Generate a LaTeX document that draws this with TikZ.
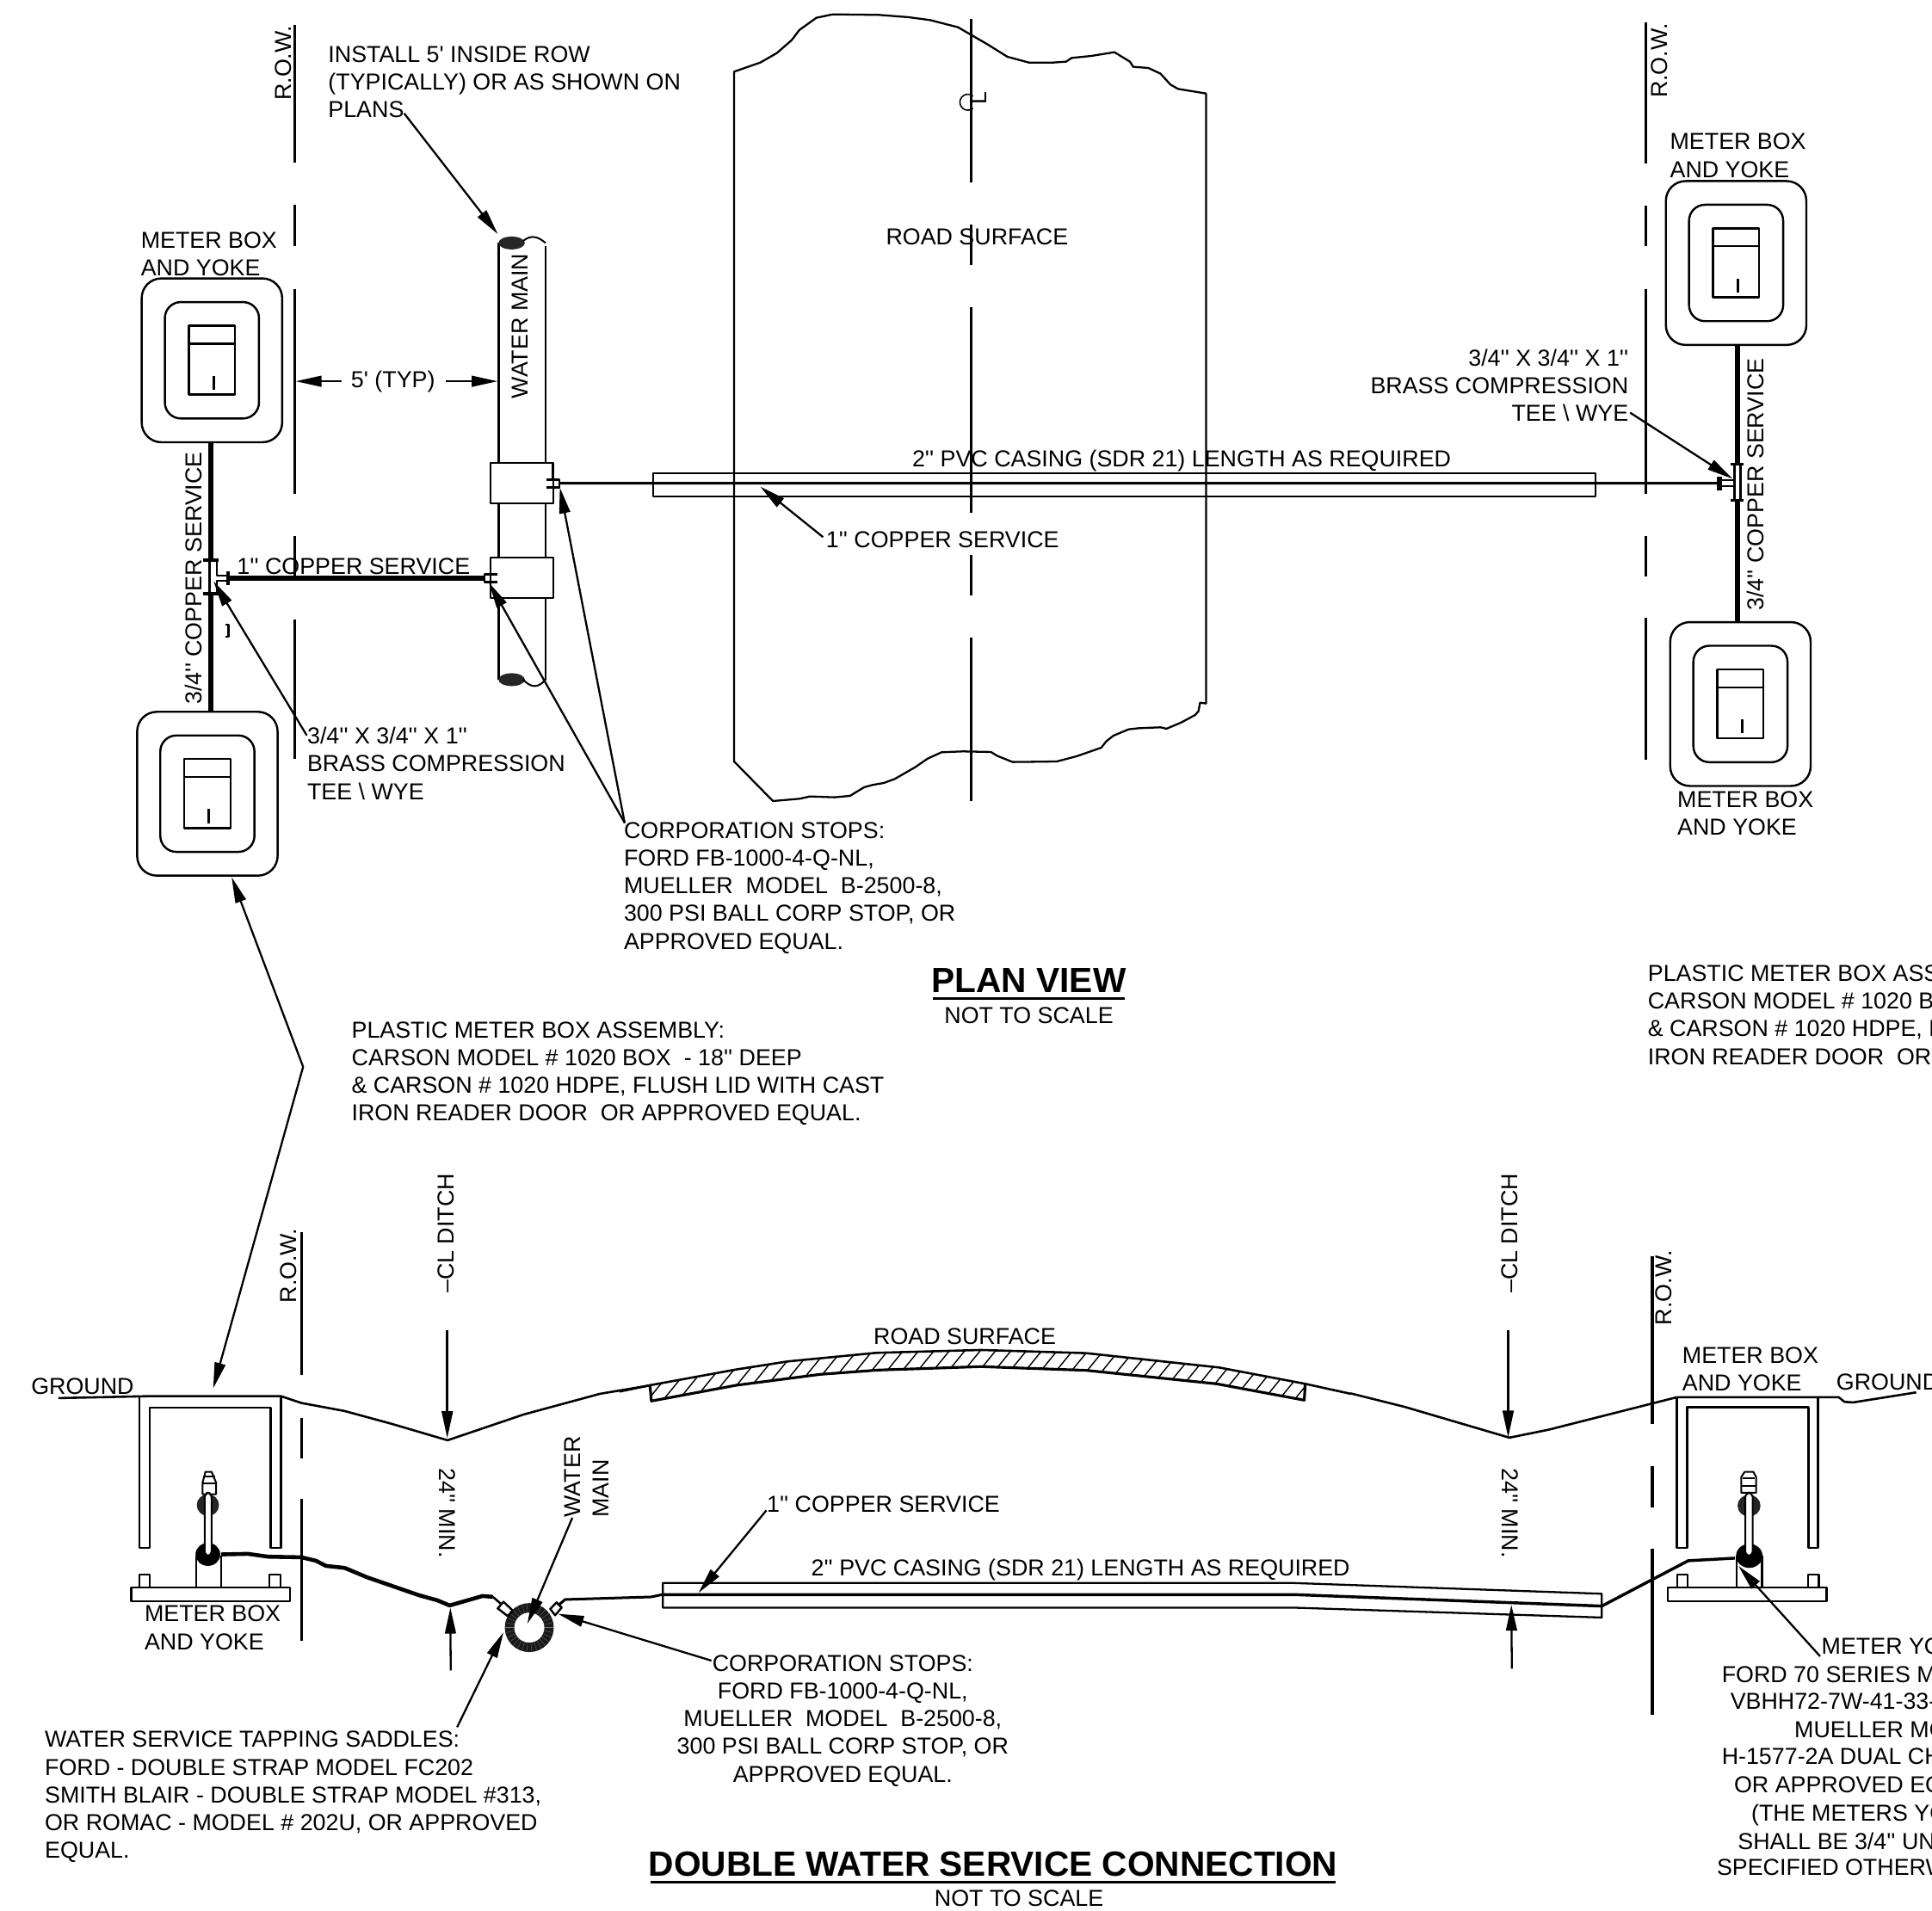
\documentclass[tikz,border=0pt]{standalone}
\usepackage{fontspec}
\usetikzlibrary{arrows.meta}
\newfontfamily\dwgfont{Liberation Sans}
\newcommand\mplan[2]{\begin{scope}[shift={(#1,#2)},line width=.85pt]
 \draw[rounded corners=8pt,fill=white] (0,0) rectangle (114,133);
 \draw[rounded corners=6.5pt] (18.8,19.2) rectangle (95.2,113.7);
 \draw (38.3,38.3) rectangle (75.7,94.3);
 \draw (38.3,52.9) -- (75.7,52.9);
 \draw[line width=1.1pt] (58.3,79) -- (58.3,90.4);
\end{scope}}
\tikzset{
 lbl/.style={font=\dwgfont\fontsize{9.37}{11.25}\selectfont,inner sep=0pt,align=left,anchor=north west},
 lblc/.style={lbl,anchor=center,align=center},
 lblr/.style={lbl,anchor=north east,align=right},
 vert/.style={lbl,rotate=90,anchor=west},
 vertdown/.style={lbl,rotate=-90,anchor=east},
 titlebig/.style={font=\dwgfont\bfseries\fontsize{14.2}{16}\selectfont,inner sep=0pt,anchor=center},
 leader/.style={line width=.8pt,-{Triangle[length=10.5pt,width=4.4pt]}},
 dim/.style={line width=1pt,-{Triangle[length=11pt,width=4.4pt]}},
 row/.style={line width=1.1pt},
 thin line/.style={line width=.7pt},
 thickpipe/.style={line width=2pt},
 ground/.style={line width=.9pt,line join=round},
}
\begin{document}
\begin{tikzpicture}[x=0.5pt,y=-0.5pt,line join=round]
\clip (0,0) rectangle (1568,1551);
\fill[white] (0,0) rectangle (1568,1551);
% ---------- road outline
\begin{scope}[shift={(579.7,0)},xscale=.2673,yscale=.2328]
\draw[line width=.8pt] (60,250)--(140,218)--(190,185)--(235,140)--(258,105)--(310,62)--(360,50)--(500,52)--(590,60)--(655,70)--(740,95)--(830,155)--(890,198)--(955,218)--(1030,218)--(1068,215)--(1085,202)--(1145,195)--(1215,182)--(1262,215)--(1272,233)--(1318,237)--(1355,257)--(1385,295)--(1408,310)--(1493,326)
--(1493,2453)--(1475,2450)--(1470,2480)--(1460,2493)--(1418,2519)--(1373,2541)--(1355,2536)--(1290,2539)--(1258,2543)--(1212,2565)--(1190,2585)--(1175,2607)--(1100,2637)--(1040,2655)--(985,2656)--(906,2657)--(860,2636)--(840,2622)--(755,2620)--(690,2623)--(648,2645)--(610,2675)--(548,2716)--(515,2730)--(480,2737)--(455,2745)--(412,2775)--(365,2780)--(290,2777)--(260,2785)--(178,2793)--(60,2655)--cycle;
\end{scope}
% centre line
\foreach \a/\b in {15.6/148,182.5/215,249.6/416,450.6/483,517.6/650} \draw[row] (788,\a) -- (788,\b);
\node[vert,anchor=center] (clmark) at (794.5,79.5) {L};
\draw[line width=.55pt] (789.7,78) arc [start angle=-50,end angle=-310,radius=6.5];
% R.O.W. lines plan
\foreach \a/\b in {20/132,166/200,234.4/401,435/468,503/616} \draw[row] (239,\a) -- (239,\b);
\foreach \a/\b in {18/133,166.7/200,234.4/400.8,435/467.8,501.6/616.7} \draw[row] (1336,\a) -- (1336,\b);
% R.O.W. lines section
\foreach \a/\b in {1000/1116,1150.7/1183.8,1216.8/1332} \draw[row] (245,\a) -- (245,\b);
\foreach \a/\b in {1020/1156,1190/1223.4,1257/1391.7} \draw[line width=1.4pt] (1341,\a) -- (1341,\b);
% ---------- meter boxes plan + services
\draw[thickpipe] (171,358.8) -- (171,454.5) (171,482) -- (171,577.7);
\draw[thickpipe] (1410,281) -- (1410,377) (1410,406.5) -- (1410,505);
\mplan{115}{226}
\mplan{111.3}{577.8}
\mplan{1352}{147}
\mplan{1355.5}{505}
% left tee and water main
\begin{scope}[shift={(83.8,181.6)},xscale=.2673,yscale=.3475]
 \draw[line width=1.2pt] (1200,45) -- (1200,1065);
 \draw[line width=.95pt] (1343,52) -- (1343,1065);
 \fill[black!85] (1240,45) ellipse [x radius=40,y radius=15];
 \fill[black!85] (1240,1065) ellipse [x radius=40,y radius=15];
 \draw[thin line] (1275,40) .. controls (1300,25) and (1320,30) .. (1343,45);
 \draw[thin line] (1275,1065) .. controls (1300,1085) and (1320,1085) .. (1343,1065);
 \draw[line width=1.4pt] (304,785)--(350,785) (304,865)--(350,865);
 \draw[line width=1pt] (322,785)--(322,865);
 \draw[thin line] (345,785)--(345,822)--(385,822) (345,865)--(345,835)--(385,835);
 \draw[line width=1.4pt] (378,812)--(378,845);
 \draw[line width=.9pt] (370,937)--(380,937)--(380,965)--(370,965);
 \draw[thickpipe] (385,828) -- (1160,828);
 \coordinate (tipteeL) at (335,835);
\end{scope}
\begin{scope}[shift={(377.1,342.2)},scale=.2328,line width=.85pt]
 \draw[fill=white] (90,145) rectangle (310,285);
 \draw[fill=white] (90,475) rectangle (310,615);
 \draw[line width=1.2pt] (308,145) -- (308,205);
 \draw (285,203)--(330,203)--(330,230)--(285,230);
 \draw (115,533)--(70,533)--(70,560)--(115,560);
 \coordinate (copperstart) at (330,215);
 \coordinate (tipcorpU) at (332,230);
 \coordinate (tipcorpL) at (85,562);
\end{scope}
% right tee
\begin{scope}[shift={(1292.1,125.7)},xscale=.2328,yscale=.3563]
 \draw[line width=1.3pt] (484,705)--(528,705) (484,787)--(528,787);
 \draw[line width=.9pt] (497,705)--(497,787) (518,705)--(518,787);
 \draw[line width=.7pt] (445,742)--(497,742) (445,755)--(497,755);
 \draw[line width=2pt] (443,733)--(443,765);
 \coordinate (copperend) at (443,748);
 \coordinate (tipteeR) at (490,738);
\end{scope}
% casing plan
\draw[line width=.8pt] (530,384) rectangle (1295,403);
\draw[line width=1.05pt] (copperstart) -- (copperend);
% ---------- section: ground
\begin{scope}[shift={(14,1089.5)},xscale=.3342,yscale=.2328]
 \draw[ground] (100,195)--(325,188)--(640,188)--(690,212)--(795,240)--(910,285)--(1045,342)--(1230,252)--(1415,180)--(1540,150);
 \draw[line width=.85pt] (297,188)--(297,718)--(322,718)--(322,228)--(615,228)--(615,718)--(640,718)--(640,188);
 \draw[line width=.85pt] (277,855) rectangle (662,903);
 \draw[line width=.8pt] (297,855)--(297,810)--(322,810)--(322,855) (612,855)--(612,810)--(640,810)--(640,855);
 \draw[line width=.85pt] (435,855)--(435,745) (495,855)--(495,745);
 \fill (463,740) ellipse [x radius=30,y radius=40];
 \draw[line width=.7pt,fill=white] (450,525)--(450,490)--(457,452)--(472,452)--(483,490)--(483,530)--(450,530)--cycle;
 \draw[line width=.7pt] (453,468)--(480,468) (450,492)--(483,492);
 \fill[black!85] (463,568) ellipse [x radius=27,y radius=38];
 \draw[line width=.7pt,fill=white,rounded corners=2pt] (455,745)--(455,525)--(472,525)--(472,745)--cycle;
 \draw[line width=1.6pt] (495,740)--(560,738)--(610,748)--(690,750)--(725,762)--(750,780)--(795,787)--(850,820)--(975,882)--(1020,900)--(1050,918)--(1130,885)--(1155,888);
 \draw[line width=.9pt] (1155,888)--(1185,925);
\end{scope}
\begin{scope}[shift={(502.9,1061.6)},xscale=.3785,yscale=.2328]
 \begin{scope}
  \clip (65,270)--(250,215)--(360,187)--(550,157)--(775,147)--(1000,158)--(1285,208)--(1470,265)--(1468,322)--(1280,265)--(1000,218)--(775,205)--(555,217)--(430,232)--(250,270)--(68,325)--cycle;
  \foreach \x in {-20,13,...,1500} \draw[line width=.5pt] (\x,350) -- ({\x+110},130);
 \end{scope}
 \draw[ground] (0,292)--(65,270)--(250,215)--(360,187)--(550,157)--(775,147)--(1000,158)--(1285,208)--(1470,265)--(1568,300);
 \draw[line width=1.1pt] (65,270)--(68,325)--(250,270)--(430,232)--(555,217)--(775,205)--(1000,218)--(1280,265)--(1468,322)--(1470,265);
\end{scope}
\draw[ground] (1096,1131)--(1140,1142)--(1225,1167)--(1257,1160.5)--(1360.8,1134.2);
\begin{scope}[shift={(1257.2,1047.6)},scale=.2328]
 \draw[ground] (445,372)--(1010,372)--(1030,388)--(1060,390)--(1280,355);
 \draw[line width=.85pt] (445,372)--(445,897)--(482,897)--(482,407)--(905,407)--(905,897)--(938,897)--(938,372);
 \draw[line width=.85pt] (414,1036) rectangle (968,1083);
 \draw[line width=.8pt] (447,1036)--(447,990)--(483,990)--(483,1036) (903,1036)--(903,990)--(940,990)--(940,1036);
 \draw[line width=.85pt] (654,1036)--(654,925) (742,1036)--(742,925);
 \fill (698,925) ellipse [x radius=46,y radius=42];
 \draw[line width=.7pt,fill=white] (670,705)--(670,650)--(682,632)--(712,632)--(722,650)--(722,705)--cycle;
 \draw[line width=.7pt] (675,655)--(718,655) (670,682)--(722,682);
 \fill[black!85] (697,750) ellipse [x radius=40,y radius=38];
 \draw[line width=.7pt,fill=white,rounded corners=2pt] (684,925)--(684,705)--(710,705)--(710,925)--cycle;
 \coordinate (serviceR) at (485,942);
 \coordinate (serviceR2) at (648,933);
\end{scope}
% casing section
\draw[line width=.8pt] (538,1285)--(1050,1285)--(1300,1293.7)--(1300,1313)--(1050,1305)--(538,1305)--cycle;
\draw[line width=1.2pt] (538,1294.4)--(1050,1294.4)--(1300,1303.7)--(serviceR)--(serviceR2);
% water main ring and corp stops
\begin{scope}[shift={(370.2,1243.2)},scale=.2328]
 \draw[black!90,line width=3.8pt] (255,335) circle [radius=69];
 \foreach \t in {0,12,...,348} \draw[black!55,line width=.12pt] ({255+54*cos(\t)},{335+54*sin(\t)}) -- ({255+84*cos(\t)},{335+84*sin(\t)});
 \draw[line width=.85pt,fill=white] (145,268)--(165,245)--(197,275)--(180,295)--cycle;
 \draw[line width=.85pt,fill=white] (328,270)--(350,247)--(368,265)--(345,292)--cycle;
 \draw[line width=1.05pt] (355,258)--(380,237)--(680,228)--(718,220);
\end{scope}
% ---------- named leader ends
\coordinate (a1s) at (328,92);      \coordinate (a1t) at (404,190);
\coordinate (a2s) at (277,309.5);   \coordinate (a2t) at (240,309.5);
\coordinate (a3s) at (361.8,309.5); \coordinate (a3t) at (403.8,309.5);
\coordinate (a4s) at (249,597);
\coordinate (a5s) at (507,668);
\coordinate (a6s) at (668,436);     \coordinate (a6t) at (617,395);
\coordinate (a7s) at (1323,335);
\coordinate (a8k) at (246,866);     \coordinate (a8t) at (188,712); \coordinate (a8u) at (173,1127);
\coordinate (b1s) at (363,1080);    \coordinate (b1t) at (363,1167.6);
\coordinate (b2s) at (365.8,1356);  \coordinate (b2t) at (365.5,1305);
\coordinate (b3s) at (1224,1080);   \coordinate (b3t) at (1224,1167);
\coordinate (b4s) at (1227,1354.5); \coordinate (b4t) at (1226.6,1302.6);
\coordinate (b5s) at (464.5,1232);  \coordinate (b5t) at (428,1318);
\coordinate (b6s) at (371,1402);    \coordinate (b6t) at (408.6,1325);
\coordinate (b7s) at (577.4,1348);  \coordinate (b7t) at (452.8,1310);
\coordinate (b8s) at (622,1226);    \coordinate (b8t) at (566.9,1293);
\coordinate (b9s) at (1477.2,1344.5); \coordinate (b9t) at (1410.8,1271.1);
\draw[leader] (a1s) -- (a1t);
\draw[leader] (a2s) -- (a2t);
\draw[leader] (a3s) -- (a3t);
\draw[leader] (a4s) -- (tipteeL);
\draw[leader] (a5s) -- (tipcorpL);
\draw[leader] (a5s) -- (tipcorpU);
\draw[leader] (a6s) -- (a6t);
\draw[leader] (a7s) -- (tipteeR);
\draw[line width=.8pt,{Triangle[length=10.5pt,width=4.4pt]}-{Triangle[length=10.5pt,width=4.4pt]}] (a8t) -- (a8k) -- (a8u);
\draw[dim] (b1s) -- (b1t);
\draw[leader] (b2s) -- (b2t);
\draw[dim] (b3s) -- (b3t);
\draw[leader] (b4s) -- (b4t);
\draw[leader] (b5s) -- (b5t);
\draw[leader] (b6s) -- (b6t);
\draw[leader] (b7s) -- (b7t);
\draw[leader] (b8s) -- (b8t);
\draw[leader] (b9s) -- (b9t);
% ---------- titles
\node[titlebig] (t1) at (835,796) {PLAN VIEW};
\draw[line width=.9pt] (757,810.5) -- (913,810.5);
\node[lblc] (t1n) at (835,824) {NOT TO SCALE};
\node[titlebig] (t2) at (806,1513) {DOUBLE WATER SERVICE CONNECTION};
\draw[line width=.9pt] (528,1528) -- (1084,1528);
\node[lblc] (t2n) at (827,1541) {NOT TO SCALE};
% ---------- text, plan
\node[vert] (r1) at (230,82) {R.O.W.};
\node[vert] (r2) at (1347,80) {R.O.W.};
\node[lbl] (n1) at (266,37) {INSTALL 5' INSIDE ROW\\(TYPICALLY) OR AS SHOWN ON\\PLANS};
\node[lbl] (n2) at (114,188) {METER BOX\\AND YOKE};
\node[lblc] (n3) at (319,310) {5' (TYP)};
\node[vert] (n4) at (422,324) {WATER MAIN};
\node[lblc] (n5) at (793,192) {ROAD SURFACE};
\node[lbl] (n6) at (192,453) {1'' COPPER SERVICE};
\node[vert] (n7) at (157,572) {3/4'' COPPER SERVICE};
\node[vert] (n8) at (1425,496) {3/4'' COPPER SERVICE};
\node[lbl] (n9) at (249,590) {3/4'' X 3/4'' X 1''\\BRASS COMPRESSION\\TEE \textbackslash\ WYE};
\node[lbl] (n10) at (506,667) {CORPORATION STOPS:\\FORD FB-1000-4-Q-NL,\\MUELLER\ \ MODEL\ \ B-2500-8,\\300 PSI BALL CORP STOP, OR\\APPROVED EQUAL.};
\node[lblc] (n11) at (959,374) {2'' PVC CASING (SDR 21) LENGTH AS REQUIRED};
\node[lbl] (n12) at (670,431) {1'' COPPER SERVICE};
\node[lblr] (n13) at (1322,283) {3/4'' X 3/4'' X 1''\\BRASS COMPRESSION\\TEE \textbackslash\ WYE};
\node[lbl] (n14) at (1355,108) {METER BOX\\AND YOKE};
\node[lbl] (n15) at (1361,642) {METER BOX\\AND YOKE};
\node[lbl] (n16) at (285,829) {PLASTIC METER BOX ASSEMBLY:\\CARSON MODEL \# 1020 BOX\ \ - 18'' DEEP\\\& CARSON \# 1020 HDPE, FLUSH LID WITH CAST\\IRON READER DOOR\ \ OR APPROVED EQUAL.};
\node[lbl] (n17) at (1337,783) {PLASTIC METER BOX ASS\\CARSON MODEL \# 1020 B\\\& CARSON \# 1020 HDPE, F\\IRON READER DOOR\ \ OR};
% ---------- text, section
\node[lbl] (s1) at (25,1118) {GROUND};
\node[vert] (s2) at (234,1058) {R.O.W.};
\node[vert] (s3) at (1350,1076) {R.O.W.};
\node[vert] (s4) at (362,1050) {–CL DITCH};
\node[vert] (s5) at (1225,1050) {–CL DITCH};
\node[lblc] (s6) at (783,1085) {ROAD SURFACE};
\node[vertdown] (s7) at (363,1265) {24'' MIN.};
\node[vertdown] (s8) at (1226,1265) {24'' MIN.};
\node[lbl,rotate=90,anchor=north west] (s9) at (458,1232) {WATER\\MAIN};
\node[lbl] (s10) at (622,1214) {1'' COPPER SERVICE};
\node[lblc] (s11) at (877,1274) {2'' PVC CASING (SDR 21) LENGTH AS REQUIRED};
\node[lbl] (s12) at (117,1303) {METER BOX\\AND YOKE};
\node[lbl] (s13) at (1365,1093) {METER BOX\\AND YOKE};
\node[lbl] (s14) at (1490,1115) {GROUND};
\node[lbl,anchor=north,align=center] (s15) at (684,1343) {CORPORATION STOPS:\\FORD FB-1000-4-Q-NL,\\MUELLER\ \ MODEL\ \ B-2500-8,\\300 PSI BALL CORP STOP, OR\\APPROVED EQUAL.};
\node[lbl] (s16) at (36,1405) {WATER SERVICE TAPPING SADDLES:\\FORD - DOUBLE STRAP MODEL FC202\\SMITH BLAIR - DOUBLE STRAP MODEL \#313,\\OR ROMAC - MODEL \# 202U, OR APPROVED\\EQUAL.};
\node[lbl] (y1) at (1478,1329) {METER YO};
\node[lbl] (y2) at (1397,1352) {FORD 70 SERIES M};
\node[lbl] (y3) at (1404,1374) {VBHH72-7W-41-33-};
\node[lbl] (y4) at (1456,1397) {MUELLER MO};
\node[lbl] (y5) at (1397,1419) {H-1577-2A DUAL CH};
\node[lbl] (y6) at (1407,1442) {OR APPROVED EQ};
\node[lbl] (y7) at (1421,1464) {(THE METERS YO};
\node[lbl] (y8) at (1410,1487) {SHALL BE 3/4'' UN};
\node[lbl] (y9) at (1393,1509) {SPECIFIED OTHERW};
\end{tikzpicture}
\end{document}
